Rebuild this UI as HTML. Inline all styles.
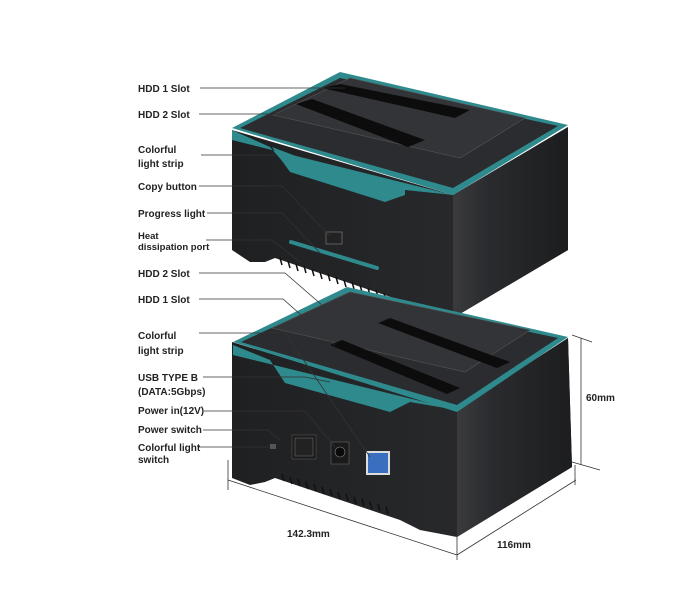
<!DOCTYPE html>
<html><head><meta charset="utf-8"><style>
html,body{margin:0;padding:0;background:#fff;width:700px;height:600px;overflow:hidden}
svg{display:block}
text{font-family:"Liberation Sans",Arial,sans-serif;font-size:10px;font-weight:bold;fill:#222}
</style></head><body>
<svg width="700" height="600" viewBox="0 0 700 600">
<defs>
<linearGradient id="lf" x1="0" y1="0" x2="1" y2="0"><stop offset="0" stop-color="#1f2022"/><stop offset="1" stop-color="#2c2d30"/></linearGradient>
<linearGradient id="rf" x1="0" y1="0" x2="1" y2="0"><stop offset="0" stop-color="#3a3b3e"/><stop offset="0.3" stop-color="#2a2b2e"/><stop offset="1" stop-color="#1c1d1f"/></linearGradient>
</defs>

<!-- TOP DEVICE -->
<g>
<polygon points="232,130 232,250 250,262 265,262 275,258 453,318 568,250 568,127 453,195" fill="url(#lf)"/>
<polygon points="453,195 568,127 568,250 453,318" fill="url(#rf)"/>
<polygon points="232,128 340,72 568,125 453,195" fill="#2e8a8c"/>
<polygon points="240,128 340,78 558,126 453,188" fill="#2b2c2f"/>
<polygon points="273,115 350,78 525,118 460,158" fill="#333437" stroke="#555" stroke-width="0.6"/>
<polygon points="322,88 340,84 470,110 455,118" fill="#0c0c0d"/>
<polygon points="296,104 312,99 425,140 408,147" fill="#0c0c0d"/>
<polygon points="232,130 270,147 290,170 385,200 405,190 453,195 232,140" fill="#2e8a8c"/>
<polygon points="272,147 385,190 405,185 405,195 385,202 290,172" fill="#2e8a8c"/>
<rect x="326" y="232" width="16" height="12" fill="#222" stroke="#777" stroke-width="0.7"/>
<line x1="291" y1="242" x2="377" y2="268" stroke="#2e8a8c" stroke-width="4" stroke-linecap="round"/>
<g stroke="#111" stroke-width="1.5">
<line x1="280" y1="258" x2="282" y2="265"/><line x1="288" y1="261" x2="290" y2="268"/><line x1="296" y1="264" x2="298" y2="271"/><line x1="304" y1="266" x2="306" y2="273"/><line x1="312" y1="269" x2="314" y2="276"/><line x1="320" y1="272" x2="322" y2="279"/><line x1="328" y1="274" x2="330" y2="281"/><line x1="336" y1="277" x2="338" y2="284"/><line x1="344" y1="280" x2="346" y2="287"/><line x1="352" y1="282" x2="354" y2="289"/><line x1="360" y1="285" x2="362" y2="292"/><line x1="368" y1="288" x2="370" y2="295"/><line x1="376" y1="290" x2="378" y2="297"/><line x1="384" y1="293" x2="386" y2="300"/>
</g>
</g>

<!-- BOTTOM DEVICE -->
<g>
<polygon points="232,342 232,478 250,485 265,482 275,478 400,520 420,530 457,537 572,467 568,338 457,410" fill="url(#lf)"/>
<polygon points="457,410 568,338 572,467 457,537" fill="url(#rf)"/>
<polygon points="233,342 347,287 568,337 457,412" fill="#2e8a8c"/>
<polygon points="241,342 347,293 558,338 457,405" fill="#2b2c2f"/>
<polygon points="272,328 350,292 530,330 465,372" fill="#333437" stroke="#555" stroke-width="0.6"/>
<polygon points="378,323 390,318 510,362 497,368" fill="#0c0c0d"/>
<polygon points="330,345 342,340 460,388 447,394" fill="#0c0c0d"/>
<polygon points="233,345 270,360 285,383 390,412 410,402 457,410 233,355" fill="#2e8a8c"/>
<rect x="292" y="435" width="24" height="24" fill="#1a1a1a" stroke="#555" stroke-width="0.6"/>
<rect x="295" y="438" width="18" height="18" fill="#222" stroke="#777" stroke-width="0.5"/>
<rect x="331" y="442" width="18" height="22" fill="#1a1a1a" stroke="#666" stroke-width="0.6"/>
<circle cx="340" cy="452" r="5" fill="#0a0a0a" stroke="#888" stroke-width="0.6"/>
<rect x="366" y="451" width="24" height="24" fill="#ddd"/>
<rect x="368" y="453" width="20" height="20" fill="#3a6fc0"/>
<rect x="270" y="444" width="6" height="5" fill="#555"/>
<g stroke="#111" stroke-width="1.5">
<line x1="282" y1="474" x2="284" y2="481"/><line x1="290" y1="477" x2="292" y2="484"/><line x1="298" y1="479" x2="300" y2="486"/><line x1="306" y1="482" x2="308" y2="489"/><line x1="314" y1="484" x2="316" y2="491"/><line x1="322" y1="487" x2="324" y2="494"/><line x1="330" y1="489" x2="332" y2="496"/><line x1="338" y1="492" x2="340" y2="499"/><line x1="346" y1="494" x2="348" y2="501"/><line x1="354" y1="497" x2="356" y2="504"/><line x1="362" y1="499" x2="364" y2="506"/><line x1="370" y1="502" x2="372" y2="509"/><line x1="378" y1="504" x2="380" y2="511"/><line x1="386" y1="507" x2="388" y2="514"/>
</g>
</g>

<!-- Leader lines -->
<g stroke="#333" stroke-width="0.8" fill="none">
<polyline points="200,88 345,88"/>
<polyline points="199,114 290,114"/>
<polyline points="201,155 275,155"/>
<polyline points="199,186 282,186 330,236"/>
<polyline points="207,213 282,213 322,255"/>
<polyline points="206,240 272,240 300,262"/>
<polyline points="199,273 285,273 330,312"/>
<polyline points="199,299 283,299 335,345"/>
<polyline points="199,333 285,333 370,457"/>
<polyline points="203,377 305,377 330,382"/>
<polyline points="204,411 305,411 335,447"/>
<polyline points="203,430 268,430 280,440"/>
<polyline points="198,447 270,447"/>
<!-- dimensions -->
<line x1="228" y1="480" x2="457" y2="555"/>
<line x1="457" y1="555" x2="576" y2="480"/>
<line x1="228" y1="460" x2="228" y2="490"/>
<line x1="457" y1="537" x2="457" y2="560"/>
<line x1="575" y1="465" x2="575" y2="485"/>
<line x1="581" y1="338" x2="581" y2="465"/>
<line x1="572" y1="335" x2="592" y2="342"/>
<line x1="572" y1="462" x2="600" y2="470"/>
</g>

<!-- Labels -->
<text x="138" y="92">HDD 1 Slot</text>
<text x="138" y="118">HDD 2 Slot</text>
<text x="138" y="153">Colorful</text>
<text x="138" y="167">light strip</text>
<text x="138" y="190">Copy button</text>
<text x="138" y="217">Progress light</text>
<text x="138" y="239" style="font-size:9.5px">Heat</text>
<text x="138" y="250" style="font-size:9.5px">dissipation port</text>
<text x="138" y="277">HDD 2 Slot</text>
<text x="138" y="303">HDD 1 Slot</text>
<text x="138" y="339">Colorful</text>
<text x="138" y="354">light strip</text>
<text x="138" y="381">USB TYPE B</text>
<text x="138" y="395">(DATA:5Gbps)</text>
<text x="138" y="414">Power in(12V)</text>
<text x="138" y="433">Power switch</text>
<text x="138" y="451">Colorful light</text>
<text x="138" y="463">switch</text>
<text x="586" y="401">60mm</text>
<text x="287" y="537">142.3mm</text>
<text x="497" y="548">116mm</text>
</svg>
</body></html>
